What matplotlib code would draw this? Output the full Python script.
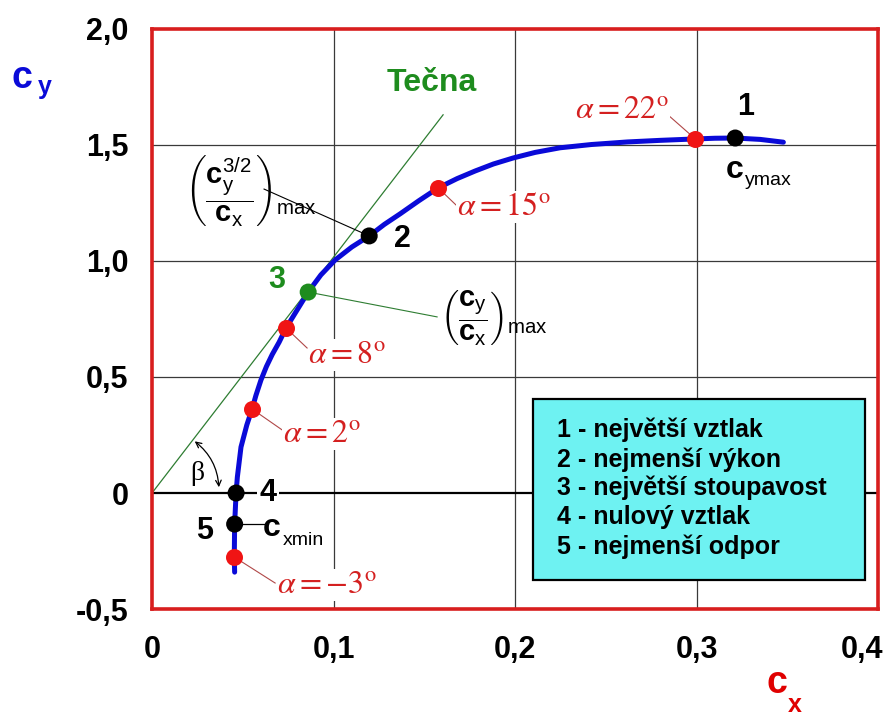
import matplotlib
matplotlib.use("Agg")
import matplotlib.pyplot as plt
import matplotlib.transforms as mtransforms
from matplotlib.patches import Rectangle, FancyArrowPatch

plt.rcParams["font.family"] = ["Liberation Sans", "DejaVu Sans"]
plt.rcParams["mathtext.fontset"] = "custom"
plt.rcParams["mathtext.rm"] = "Liberation Sans"
plt.rcParams["mathtext.bf"] = "Liberation Sans:bold"
plt.rcParams["mathtext.it"] = "Liberation Sans:italic"

# Drag polar c_y = f(c_x)
polar_cx = [0.0455, 0.0453, 0.0455, 0.0463, 0.0470, 0.0490, 0.0522, 0.0551,
            0.0572, 0.0600, 0.0630, 0.0662, 0.0700, 0.0738, 0.0800, 0.0860,
            0.0930, 0.1008, 0.1100, 0.1196, 0.1280, 0.1366, 0.1470, 0.1576,
            0.1680, 0.1780, 0.1880, 0.1989, 0.2110, 0.2248, 0.2420, 0.2617,
            0.2800, 0.2992, 0.3100, 0.3212, 0.3350, 0.3477]
polar_cy = [-0.341, -0.276, -0.134, 0.000, 0.069, 0.198, 0.293, 0.362,
            0.420, 0.487, 0.545, 0.597, 0.650, 0.711, 0.790, 0.866,
            0.940, 1.004, 1.060, 1.108, 1.158, 1.203, 1.260, 1.315,
            1.355, 1.388, 1.418, 1.444, 1.468, 1.488, 1.502, 1.513,
            1.520, 1.526, 1.529, 1.530, 1.524, 1.512]

# Angles of attack marked on the polar
alpha_deg = [-3, 2, 8, 15, 22]
alpha_cx = [0.0453, 0.0551, 0.0738, 0.1576, 0.2992]
alpha_cy = [-0.276, 0.362, 0.711, 1.315, 1.526]

# Characteristic points 1..5
special_ids = ["1", "2", "3", "4", "5"]
special_cx = [0.3212, 0.1196, 0.0860, 0.0463, 0.0455]
special_cy = [1.530, 1.108, 0.866, 0.000, -0.134]
special_colors = ["black", "black", "#1e8c1e", "black", "black"]

# upper end of the tangent line
tangent_end_cx = 0.1603
tangent_end_cy = 1.630

x_ticks = [0, 0.1, 0.2, 0.3, 0.4]
x_tick_labels = ["0", "0,1", "0,2", "0,3", "0,4"]
y_ticks = [-0.5, 0, 0.5, 1.0, 1.5, 2.0]
y_tick_labels = ["-0,5", "0", "0,5", "1,0", "1,5", "2,0"]

legend_lines = ["1 - největší vztlak", "2 - nejmenší výkon",
                "3 - největší stoupavost", "4 - nulový vztlak",
                "5 - nejmenší odpor"]

RED = "#d81e1e"
GREEN = "#1e8c1e"
BLUE = "#0a0ad8"
LABEL_RED = "#d42020"

fig = plt.figure(figsize=(8.89, 7.17), dpi=100)
ax = fig.add_axes([0.171, 0.1506, 0.817, 0.809])
ax.set_xlim(0, 0.4)
ax.set_ylim(-0.5, 2.0)

for s in ax.spines.values():
    s.set_color(RED)
    s.set_linewidth(2.6)
    s.set_zorder(10)

ax.set_xticks(x_ticks)
ax.set_xticklabels(x_tick_labels, fontsize=22, fontweight="bold")
ax.set_yticks(y_ticks)
ax.set_yticklabels(y_tick_labels, fontsize=22, fontweight="bold")
ax.tick_params(length=0, pad=17)
ax.tick_params(axis="x", pad=19)
# keep the last x label inside the figure
last = ax.get_xticklabels()[-1]
last.set_transform(last.get_transform() +
                   mtransforms.ScaledTranslation(-0.16, 0, fig.dpi_scale_trans))

# grid
for gx in x_ticks[1:-1]:
    ax.axvline(gx, color="#3a3a3a", lw=0.9, zorder=0.5)
for gy in y_ticks[2:-1]:
    ax.axhline(gy, color="#3a3a3a", lw=0.9, zorder=0.5)
ax.axhline(0, color="black", lw=1.6, zorder=0.6)

# tangent from the origin touching the polar at point 3
ax.plot([0, tangent_end_cx], [0, tangent_end_cy], color="#2e7d32", lw=0.9,
        zorder=2)
ax.text(0.1543, 1.767, "Tečna", color=GREEN, fontsize=23, fontweight="bold",
        ha="center", va="center")

# polar curve
ax.plot(polar_cx, polar_cy, color=BLUE, lw=3.6, solid_joinstyle="round",
        solid_capstyle="round", zorder=3)

# angle of attack points and labels
alpha_text_pos = [(0.0689, -0.431), (0.0722, 0.220), (0.0860, 0.560),
                  (0.1680, 1.198), (0.2331, 1.616)]
alpha_leader_end = [(0.0678, -0.388), (0.0733, 0.263), (0.0854, 0.625),
                    (0.1680, 1.237), (0.2854, 1.621)]
ax.scatter(alpha_cx, alpha_cy, s=150, color="#f01414", zorder=4, linewidths=0)
for a, x, y, (tx, ty), (lx, ly) in zip(alpha_deg, alpha_cx, alpha_cy,
                                       alpha_text_pos, alpha_leader_end):
    ax.plot([x, lx], [y, ly], color="#b04848", lw=0.8, zorder=3.5)
    ax.text(tx, ty, r"$\alpha = %d^{\mathrm{o}}$" % a, color=LABEL_RED,
            fontsize=23, math_fontfamily="stix", ha="left", va="baseline",
            zorder=5, bbox=dict(fc="white", ec="none", pad=0.5))

# characteristic points
ax.scatter(special_cx, special_cy, s=150, c=special_colors, zorder=4.5,
           linewidths=0)
id_pos = [(0.3267, 1.664), (0.1377, 1.095), (0.0689, 0.918),
          (0.0639, 0.0), (0.0292, -0.164)]
for sid, (tx, ty), col in zip(special_ids, id_pos, special_colors):
    bb = dict(fc="white", ec="none", pad=1.5) if sid == "4" else None
    ax.text(tx, ty, sid, color=col, fontsize=22, fontweight="bold",
            ha="center", va="center", zorder=5, bbox=bb)

# c_ymax and c_xmin labels
ax.text(0.3207, 1.392, "c", fontsize=23, fontweight="bold", ha="center",
        va="center", zorder=5)
ax.text(0.3267, 1.349, "ymax", fontsize=14, ha="left", va="center", zorder=5)
ax.plot([special_cx[4], 0.0640], [special_cy[4], special_cy[4]],
        color="black", lw=0.9, zorder=3.5)
ax.text(0.0661, -0.151, "c", fontsize=23, fontweight="bold", ha="center",
        va="center", zorder=5)
ax.text(0.0722, -0.203, "xmin", fontsize=14, ha="left", va="center", zorder=5)

# ratio labels with leader lines
ax.plot([0.0617, special_cx[1]], [1.310, special_cy[1]], color="black",
        lw=0.8, zorder=3.5)
ax.text(0.0545, 1.302,
        r"$\left(\dfrac{\mathbf{c}_{\mathrm{y}}^{\mathrm{3/2}}}"
        r"{\mathbf{c}_{\mathrm{x}}}\right)_{\mathrm{max}}$",
        fontsize=21, ha="center", va="center", zorder=5)
ax.plot([special_cx[2], 0.157], [special_cy[2], 0.759], color="#2e7d32",
        lw=0.8, zorder=3.5)
ax.text(0.1885, 0.754,
        r"$\left(\dfrac{\mathbf{c}_{\mathrm{y}}}"
        r"{\mathbf{c}_{\mathrm{x}}}\right)_{\mathrm{max}}$",
        fontsize=21, ha="center", va="center", zorder=5)

# angle beta between the tangent and the c_x axis
ax.add_patch(FancyArrowPatch((0.0223, 0.230), (0.0369, 0.013),
                             connectionstyle="arc3,rad=-0.244",
                             arrowstyle="<->,head_length=4,head_width=2",
                             color="black", lw=0.9, zorder=3))
ax.text(0.0248, 0.086, "β", family="Liberation Serif", fontsize=20,
        ha="center", va="center", zorder=5)

# legend box
ax.add_patch(Rectangle((0.2099, -0.375), 0.1829, 0.780, facecolor="#6ef2f2",
                       edgecolor="black", lw=1.6, zorder=6))
legend_y = [0.2716, 0.1422, 0.0216, -0.1034, -0.2328]
for line, ly in zip(legend_lines, legend_y):
    ax.text(0.2231, ly, line, fontsize=18, fontweight="bold", ha="left",
            va="center", zorder=7)

# axis names
fig.text(0.0247, 0.891, "c", color=BLUE, fontsize=27, fontweight="bold",
         ha="center", va="center")
fig.text(0.0506, 0.879, "y", color=BLUE, fontsize=18, fontweight="bold",
         ha="center", va="center")
fig.text(0.874, 0.0474, "c", color="#e00000", fontsize=27, fontweight="bold",
         ha="center", va="center")
fig.text(0.894, 0.0167, "x", color="#e00000", fontsize=18, fontweight="bold",
         ha="center", va="center")

fig.savefig("out.png", dpi=100)
